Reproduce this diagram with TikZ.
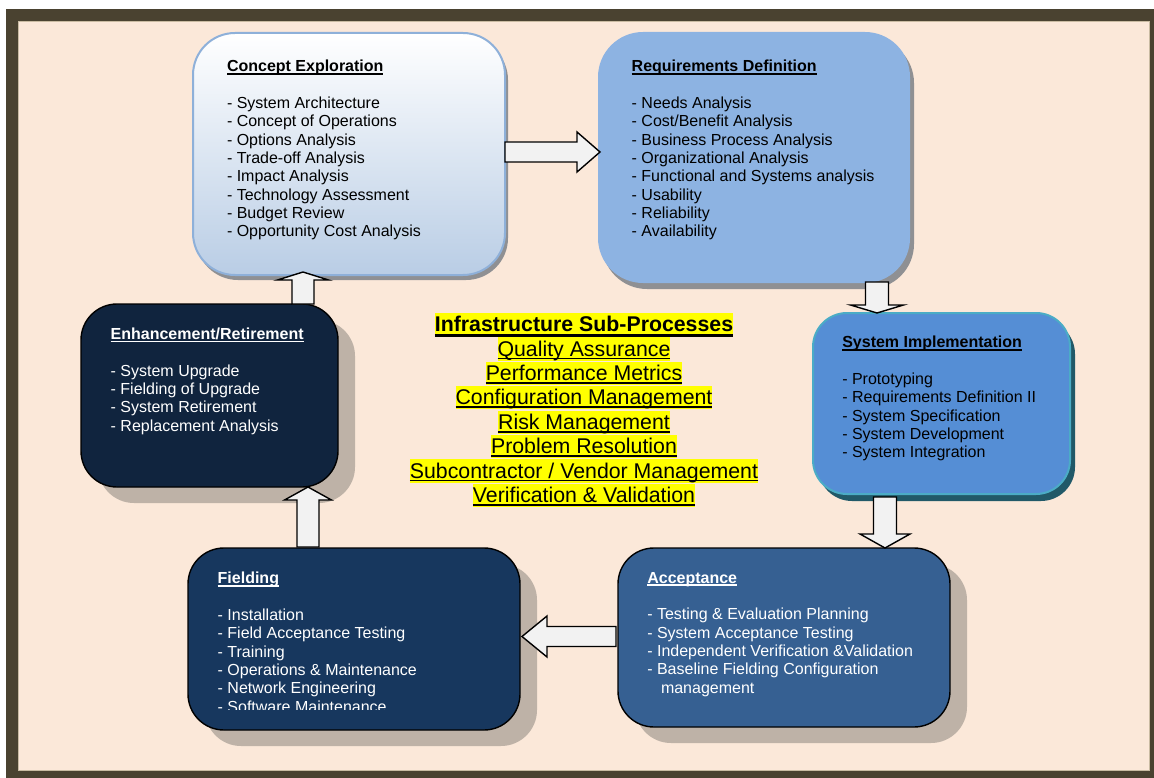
\documentclass[tikz,border=0pt]{standalone}
\usepackage{fontspec}
\setmainfont{Liberation Sans}
\usetikzlibrary{calc,shadows}
\definecolor{frameC}{HTML}{4A4230}
\definecolor{bgC}{HTML}{FBE8D9}
\definecolor{edgeC}{HTML}{C9BBA2}
\definecolor{ceB}{HTML}{8EB0D9}
\definecolor{ceF}{HTML}{B9CDE5}
\definecolor{rdF}{HTML}{8DB3E2}
\definecolor{siF}{HTML}{558ED5}
\definecolor{siB}{HTML}{4BACC6}
\definecolor{siS}{HTML}{215968}
\definecolor{acF}{HTML}{366092}
\definecolor{fiF}{HTML}{17375E}
\definecolor{erF}{HTML}{10243E}
\definecolor{lightS}{HTML}{8F9093}
\definecolor{darkS}{HTML}{BEB2A7}
\definecolor{arrF}{HTML}{F2F2F2}
\definecolor{hlY}{HTML}{FFFF00}
\newcommand\ulx[3]{\leavevmode\setbox0=\hbox{#3}\rlap{\rule[-#1]{\wd0}{#2}}\box0}
\newcommand\hlx[1]{{\setlength\fboxsep{0pt}\colorbox{hlY}{\rule[-4pt]{0pt}{22.8pt}#1}}}
\newcommand\boxtext[2]{\parbox[t]{330pt}{\fontsize{16}{18.35}\selectfont\ulx{3pt}{1.6pt}{\textbf{#1}}\\\mbox{}\\#2}}
\newcommand\blockarrow[5]{%
  \coordinate (hb) at ($(#2)!#5!(#1)$);
  \draw[barrow] ($(#1)!#3!90:(#2)$) -- ($(hb)!#3!90:(#2)$) -- ($(hb)!#4!90:(#2)$) -- (#2)
    -- ($(hb)!#4!-90:(#2)$) -- ($(hb)!#3!-90:(#2)$) -- ($(#1)!#3!-90:(#2)$) -- cycle;}
\tikzset{
  box/.style={rectangle, inner sep=0pt, outer sep=0pt},
  darkbox/.style={box, draw=black, line width=1.4pt, rounded corners=36pt,
    drop shadow={shadow xshift=17pt, shadow yshift=-16pt, fill=darkS, opacity=1}},
  txt/.style={inner sep=0pt, outer sep=0pt, anchor=base west},
  barrow/.style={draw=black, line width=1.4pt, fill=arrF, line join=miter},
}
\begin{document}
\begin{tikzpicture}[x=1pt, y=-1pt]
\useasboundingbox (0,0) rectangle (1154,778);
\fill[white] (0,0) rectangle (1154,778);
\fill[frameC] (6,9) rectangle (1170,790);
\fill[bgC] (18,21) rectangle (1150,771);
\draw[edgeC, line width=1pt] (18.5,21.5) rectangle (1149.5,770.5);

% boxes
\node[box, minimum width=312pt, minimum height=242pt, rounded corners=42pt,
  draw=ceB, line width=2pt, top color=white, bottom color=ceF,
  drop shadow={shadow xshift=3pt, shadow yshift=-5pt, fill=lightS, opacity=1}] (ce) at (349,154) {};
\node[box, minimum width=312pt, minimum height=251pt, rounded corners=45pt,
  fill=rdF, drop shadow={shadow xshift=4pt, shadow yshift=-6pt, fill=lightS, opacity=1}] (rd) at (754,157.5) {};
\node[box, minimum width=257pt, minimum height=181pt, rounded corners=34pt,
  draw=siB, line width=2pt, fill=siF,
  drop shadow={shadow xshift=5pt, shadow yshift=-7pt, fill=siS, opacity=1}] (si) at (941.5,403.5) {};
\node[darkbox, minimum width=332pt, minimum height=179pt, fill=acF] (ac) at (784,637.5) {};
\node[darkbox, minimum width=332pt, minimum height=182pt, fill=fiF] (fi) at (354,639) {};
\node[darkbox, minimum width=257pt, minimum height=183pt, fill=erF] (er) at (209.5,395.5) {};

% texts
\node[txt] (cet) at (227,71.7) {\boxtext{Concept Exploration}{- System Architecture\\- Concept of Operations\\- Options Analysis\\- Trade-off Analysis\\- Impact Analysis\\- Technology Assessment\\- Budget Review\\- Opportunity Cost Analysis}};
\node[txt] (rdt) at (631.7,71.7) {\boxtext{Requirements Definition}{- Needs Analysis\\- Cost/Benefit Analysis\\- Business Process Analysis\\- Organizational Analysis\\- Functional and Systems analysis\\- Usability\\- Reliability\\- Availability}};
\node[txt] (sit) at (842.3,347.7) {\boxtext{System Implementation}{- Prototyping\\- Requirements Definition II\\- System Specification\\- System Development\\- System Integration}};
\node[txt, text=white] (act) at (647.3,583) {\boxtext{Acceptance}{- Testing \& Evaluation Planning\\- System Acceptance Testing\\- Independent Verification \&Validation\\- Baseline Fielding Configuration\\\hspace*{13.7pt}management}};
\begin{scope}
\clip (0,0) rectangle (1154,709.3);
\node[txt, text=white] (fit) at (217.7,583.8) {\boxtext{Fielding}{- Installation\\- Field Acceptance Testing\\- Training\\- Operations \& Maintenance\\- Network Engineering\\- Software Maintenance}};
\end{scope}
\node[txt, text=white] (ert) at (110.7,339.3) {\boxtext{Enhancement/Retirement}{- System Upgrade\\- Fielding of Upgrade\\- System Retirement\\- Replacement Analysis}};

% center list
\node[inner sep=0pt, outer sep=0pt, anchor=base] (isp) at (584,331.7) {\parbox[t]{440pt}{\centering\fontsize{21.3}{24.4}\selectfont
\hlx{\ulx{5pt}{2.6pt}{\textbf{Infrastructure Sub-Processes}}}\\
\hlx{\ulx{3.2pt}{1.8pt}{Quality Assurance}}\\
\hlx{\ulx{3.2pt}{1.8pt}{Performance Metrics}}\\
\hlx{\ulx{3.2pt}{1.8pt}{Configuration Management}}\\
\hlx{\ulx{3.2pt}{1.8pt}{Risk Management}}\\
\hlx{\ulx{3.2pt}{1.8pt}{Problem Resolution}}\\
\hlx{\ulx{3.2pt}{1.8pt}{Subcontractor / Vendor Management}}\\
\hlx{\ulx{3.2pt}{1.8pt}{Verification \& Validation}}}};

% arrows
\coordinate (a1s) at ($(ce.east)+(0,-2)$);
\coordinate (a1e) at ($(rd.west |- a1s)+(2,0)$);
\blockarrow{a1s}{a1e}{10pt}{20pt}{23pt}
\coordinate (a2s) at ($(rd.south east)+(-33,-1)$);
\coordinate (a2e) at (si.north -| a2s);
\blockarrow{a2s}{a2e}{11.5pt}{26.5pt}{8pt}
\coordinate (a3s) at ($(si.south)+(-56.5,3)$);
\coordinate (a3e) at (ac.north -| a3s);
\blockarrow{a3s}{a3e}{11.5pt}{25pt}{14pt}
\coordinate (a4s) at ($(ac.west)+(-2,-1)$);
\coordinate (a4e) at ($(fi.east |- a4s)+(2,0)$);
\blockarrow{a4s}{a4e}{10pt}{20.5pt}{25pt}
\coordinate (a5s) at ($(fi.north)+(-46,-1)$);
\coordinate (a5e) at (er.south -| a5s);
\blockarrow{a5s}{a5e}{11pt}{23.5pt}{13pt}
\coordinate (a6s) at ($(er.north)+(93.5,0)$);
\coordinate (a6e) at ($(ce.south -| a6s)+(0,-3)$);
\blockarrow{a6s}{a6e}{11pt}{25.5pt}{8pt}
\end{tikzpicture}
\end{document}
